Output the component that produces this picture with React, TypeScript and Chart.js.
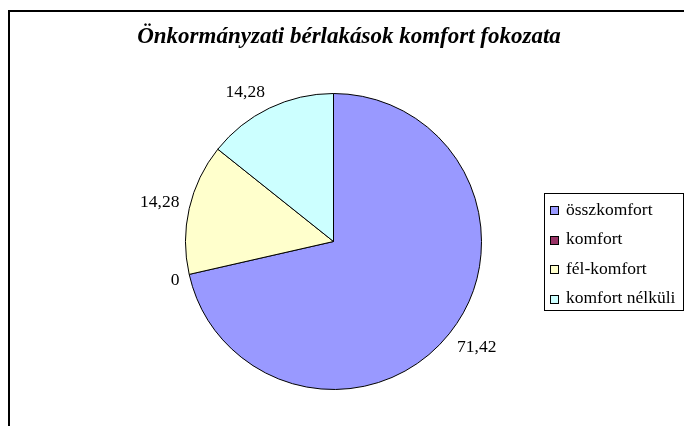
import React, { useEffect, useRef } from "react";
import { Chart, registerables } from "chart.js";

Chart.register(...registerables);

const TITLE = "Önkormányzati bérlakások komfort fokozata";
const CATEGORIES = ["összkomfort", "komfort", "fél-komfort", "komfort nélküli"];
const VALUES = [71.42, 0, 14.28, 14.28];
const COLORS = ["#9999FF", "#993366", "#FFFFCC", "#CCFFFF"];

const SERIF = "'Liberation Serif', 'Times New Roman', serif";

const clamp = (v: number) => Math.max(-1, Math.min(1, v));

const decorPlugin = {
  id: "decor",
  beforeDraw(chart: any) {
    const ctx = chart.ctx;
    ctx.save();
    ctx.fillStyle = "#fff";
    ctx.fillRect(0, 0, chart.width, chart.height);
    // frame
    ctx.strokeStyle = "#000";
    ctx.lineWidth = 2;
    ctx.strokeRect(9, 11, chart.width + 20, chart.height + 20);
    // title
    ctx.fillStyle = "#000";
    ctx.font = `italic bold 23px ${SERIF}`;
    ctx.textAlign = "center";
    ctx.textBaseline = "alphabetic";
    ctx.fillText(TITLE, 349, 43);
    ctx.restore();
  },
  afterDatasetsDraw(chart: any) {
    const ctx = chart.ctx;
    const meta = chart.getDatasetMeta(0);
    const data = chart.data.datasets[0].data as number[];
    ctx.save();
    ctx.font = `17.5px ${SERIF}`;
    ctx.fillStyle = "#000";
    ctx.textAlign = "center";
    ctx.textBaseline = "middle";
    meta.data.forEach((arc: any, i: number) => {
      const p = arc.getProps(["x", "y", "startAngle", "endAngle", "outerRadius"], true);
      const mid = (p.startAngle + p.endAngle) / 2;
      const dx = Math.cos(mid);
      const dy = Math.sin(mid);
      const txt = String(data[i]).replace(".", ",");
      const w = ctx.measureText(txt).width;
      const h = 14;
      const r = p.outerRadius + 10;
      const cx = p.x + dx * r + (w / 2) * clamp(dx * 2.5);
      const cy = p.y + dy * r + (h / 2) * clamp(dy * 2.5);
      ctx.fillText(txt, cx, cy);
    });
    ctx.restore();

    // legend
    ctx.save();
    const labels = chart.data.labels as string[];
    const colors = chart.data.datasets[0].backgroundColor as string[];
    const bx = 544.5, by = 193.5, bw = 139, bh = 117;
    ctx.strokeStyle = "#000";
    ctx.lineWidth = 1;
    ctx.strokeRect(bx, by, bw, bh);
    ctx.font = `17.5px ${SERIF}`;
    ctx.textAlign = "left";
    ctx.textBaseline = "middle";
    labels.forEach((lab, i) => {
      const cy = 210 + i * 29.5;
      ctx.fillStyle = colors[i];
      ctx.fillRect(550, Math.round(cy) - 4, 8, 8);
      ctx.strokeStyle = "#000";
      ctx.strokeRect(550.5, Math.round(cy) - 3.5, 8, 8);
      ctx.fillStyle = "#000";
      ctx.fillText(lab, 566, cy);
    });
    ctx.restore();
  },
};

export default function App() {
  const ref = useRef<HTMLCanvasElement | null>(null);
  useEffect(() => {
    if (!ref.current) return;
    const chart = new Chart(ref.current, {
      type: "pie",
      data: {
        labels: CATEGORIES,
        datasets: [
          {
            data: VALUES,
            backgroundColor: COLORS,
            borderColor: "#000",
            borderWidth: 1,
          },
        ],
      },
      options: {
        responsive: false,
        animation: false,
        layout: { padding: { left: 185, right: 202, top: 93, bottom: 36 } },
        plugins: {
          legend: { display: false },
          tooltip: { enabled: false },
          title: { display: false },
        },
      },
      plugins: [decorPlugin],
    });
    return () => chart.destroy();
  }, []);
  return (
    <div style={{ position: "fixed", left: 0, top: 0, width: 684, height: 426, overflow: "hidden", background: "#fff" }}>
      <canvas ref={ref} width={684} height={426} style={{ width: 684, height: 426, display: "block" }} />
    </div>
  );
}
